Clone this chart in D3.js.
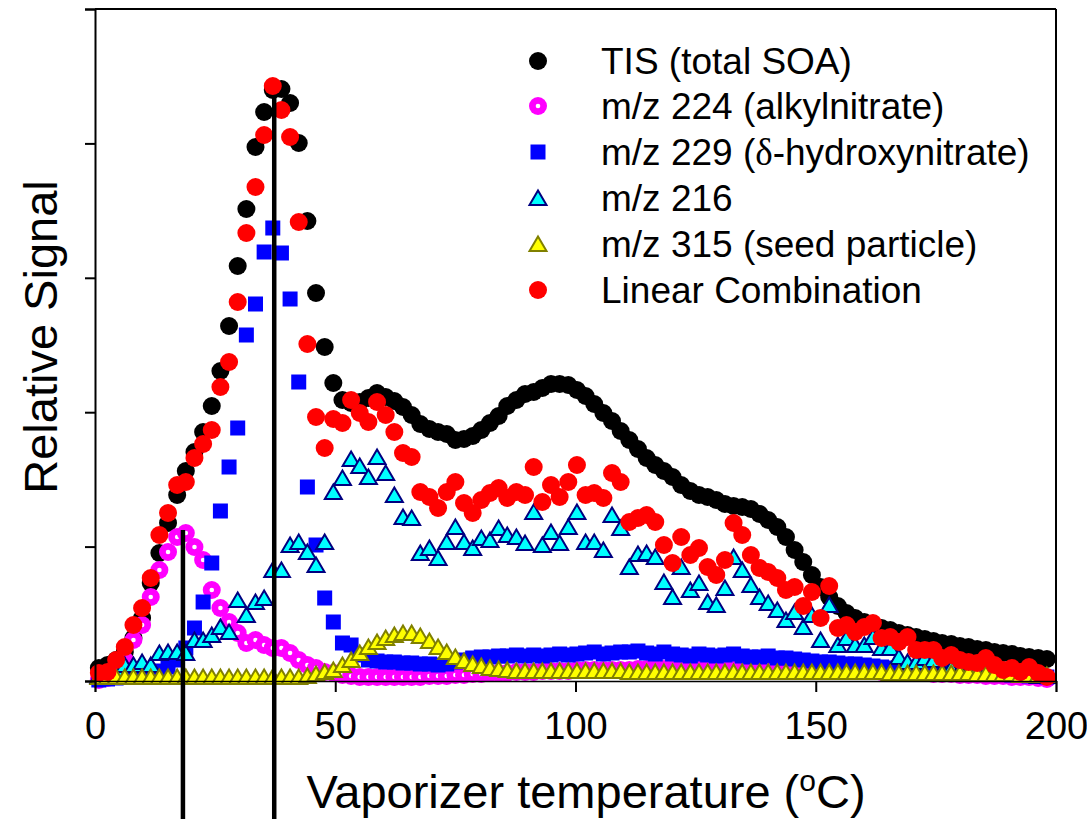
<!DOCTYPE html>
<html><head><meta charset="utf-8">
<script src="https://cdn.jsdelivr.net/npm/d3@7"></script>
<style>body{margin:0;background:#fff}</style>
</head><body><svg id="chart" width="1087" height="819"></svg>
<script>
// Vaporizer temperature (°C) of each scan
const temperature = [0.8,2.6,4.4,6.2,8.0,9.8,11.6,13.4,15.2,17.1,18.9,20.7,22.5,24.3,26.1,27.9,29.7,31.5,33.4,35.2,
37.0,38.8,40.6,42.4,44.2,46.0,47.8,49.6,51.5,53.3,55.1,56.9,58.7,60.5,62.3,64.1,65.9,67.7,69.6,71.4,
73.2,75.0,76.8,78.6,80.4,82.2,84.0,85.8,87.7,89.5,91.3,93.1,94.9,96.7,98.5,100.3,102.1,103.9,105.8,107.6,
109.4,111.2,113.0,114.8,116.6,118.4,120.2,122.0,123.9,125.7,127.5,129.3,131.1,132.9,134.7,136.5,138.3,140.1,142.0,143.8,
145.6,147.4,149.2,151.0,152.8,154.6,156.4,158.2,160.1,161.9,163.7,165.5,167.3,169.1,170.9,172.7,174.5,176.3,178.2,180.0,
181.8,183.6,185.4,187.2,189.0,190.8,192.6,194.4,196.3,198.1];

// Relative signal (arbitrary units)
const tis = [13,16,21,29,43,63,98,128,158,186,210,229,249,275,310,355,415,472,534,569,
591,592,578,538,460,388,334,298,281,278,279,283,288,284,280,274,266,257,252,249,
247,241,242,245,251,258,265,275,281,287,289,293,297,297,296,291,285,277,268,260,
250,241,232,223,216,210,204,196,190,186,184,181,177,175,174,172,167,161,154,144,
131,119,106,94,84,75,68,63,59,56,53,51,48,46,44,42,40,38,37,35,
34,32,31,29,28,27,25,24,23,22];

const mz224 = [1,3,9,21,41,56,84,111,129,144,148,134,121,91,73,59,48,38,41,36,
33,33,28,21,16,13,9,8,6,5,4,4,4,4,4,4,4,4,5,5,
5,6,6,7,7,8,8,8,9,9,9,10,10,10,10,11,11,11,11,11,
11,11,12,12,12,12,12,12,12,12,12,12,12,12,12,12,12,12,12,12,
12,11,11,11,11,11,10,10,10,10,9,9,9,8,8,8,7,7,7,6,
6,6,5,5,5,4,4,4,3,2];

const mz229 = [1,2,3,4,5,6,8,10,14,21,33,53,79,118,170,214,253,346,377,429,
453,428,382,299,194,136,83,59,38,36,26,21,20,19,19,18,18,17,17,16,
17,19,21,23,24,24,25,25,26,25,26,25,26,27,26,27,28,29,27,28,
29,29,30,28,27,29,27,26,25,27,26,25,26,27,25,24,24,25,23,23,
22,21,20,19,19,18,17,17,16,15,14,13,13,12,12,11,11,10,10,9,
9,8,8,7,7,6,6,5,5,4];

const mz216 = [5,9,11,16,16,19,16,28,29,29,28,41,41,46,54,49,81,66,79,83,
111,111,136,139,129,116,139,189,203,222,215,204,224,208,186,164,163,128,133,123,
139,154,139,133,143,141,153,146,144,138,169,136,149,138,154,169,139,139,131,166,
153,114,127,128,124,99,84,114,91,98,79,76,93,124,111,96,84,78,71,61,
69,54,66,41,76,36,43,36,36,44,33,33,24,19,19,23,21,11,13,11,
9,11,8,9,7,8,6,7,5,5];

const mz315 = [4,4,4,4,4,4,4,4,4,4,4,4,4,4,4,4,4,4,4,4,
4,4,4,4,5,7,9,11,16,21,28,34,39,43,46,48,48,45,40,34,
29,24,20,17,15,13,12,11,10,10,10,10,10,10,10,10,10,10,10,10,
10,9,9,9,9,9,9,9,9,9,9,9,9,9,9,9,9,9,9,9,
9,9,9,9,9,9,9,9,9,9,9,8,8,8,8,8,8,8,8,8,
8,7,7,7,7,7,6,6,6,6];

const linearComb = [8,9,21,34,56,73,103,146,168,196,199,223,237,251,294,319,379,448,494,546,
595,571,544,459,337,264,233,262,258,281,268,259,279,266,249,228,224,189,184,173,
189,199,178,168,181,188,193,183,189,186,214,179,196,184,199,216,186,188,183,208,
199,159,163,166,159,136,118,144,126,133,114,106,121,158,146,126,113,109,103,91,
94,75,89,63,95,53,56,49,54,58,43,44,39,44,31,31,31,23,26,21,
19,18,23,16,11,13,9,14,8,4];

const xTicks = [0, 50, 100, 150, 200];
const yTicks = [0, 134.4, 268.8, 403.2, 537.6, 672];
// vertical marker lines (temperature, top of line in signal units)
const markerTemps = [18.3, 37.3];
const markerTops = [151, 586];

const legendLabels = ["TIS (total SOA)", "m/z 224 (alkylnitrate)", "m/z 229 (\u03B4-hydroxynitrate)",
  "m/z 216", "m/z 315 (seed particle)", "Linear Combination"];

const seriesList = [
  {values: tis, sym: "circle", fill: "#000000"},
  {values: mz224, sym: "ring", fill: "#FF00FF"},
  {values: mz229, sym: "square", fill: "#0000FF"},
  {values: mz216, sym: "triangle", fill: "#00FFFF", stroke: "#000080"},
  {values: mz315, sym: "triangle", fill: "#FFFF00", stroke: "#808000"},
  {values: linearComb, sym: "circle", fill: "#FF0000"}
];

const svg = d3.select("#chart");
const W = 1087, H = 819;
const x = d3.scaleLinear().domain([0, 200]).range([95, 1056]);
const y = d3.scaleLinear().domain([0, 672]).range([681, 9]);
const font = "'Liberation Sans', Arial, Helvetica, sans-serif";

function drawSymbol(g, s) {
  if (s.sym === "circle") {
    g.append("circle").attr("r", 9).attr("fill", s.fill);
  } else if (s.sym === "ring") {
    g.append("circle").attr("r", 9).attr("fill", s.fill);
    g.append("circle").attr("r", 2.3).attr("fill", "#fff");
  } else if (s.sym === "square") {
    g.append("rect").attr("x", -7.5).attr("y", -7.5).attr("width", 15).attr("height", 15).attr("fill", s.fill);
  } else if (s.sym === "triangle") {
    g.append("path").attr("d", "M0,-7.5 L8.5,7 L-8.5,7 Z").attr("fill", s.fill)
      .attr("stroke", s.stroke).attr("stroke-width", 2).attr("stroke-linejoin", "miter");
  }
}

// data
seriesList.forEach(s => {
  const grp = svg.append("g");
  s.values.forEach((v, i) => {
    const g = grp.append("g").attr("transform", `translate(${x(temperature[i])},${y(v)})`);
    drawSymbol(g, s);
  });
});

// frame
svg.append("line").attr("x1", x(0)).attr("x2", x(200)).attr("y1", y(672)).attr("y2", y(672))
  .attr("stroke", "#000").attr("stroke-width", 2);
svg.append("line").attr("x1", x(200)).attr("x2", x(200)).attr("y1", y(672)).attr("y2", y(0))
  .attr("stroke", "#000").attr("stroke-width", 2);

const xAxis = svg.append("g").attr("transform", `translate(0,${y(0)})`)
  .call(d3.axisBottom(x).tickValues(xTicks).tickSize(11).tickPadding(20).tickFormat(d3.format("d")));
xAxis.select(".domain").attr("stroke-width", 1.5);
xAxis.selectAll(".tick line").attr("stroke-width", 2);
xAxis.selectAll("text").attr("font-family", font).attr("font-size", 38).attr("fill", "#000");

const yAxis = svg.append("g").attr("transform", `translate(${x(0)},0)`)
  .call(d3.axisLeft(y).tickValues(yTicks).tickSize(10).tickFormat(""));
yAxis.select(".domain").attr("stroke-width", 2);
yAxis.selectAll(".tick line").attr("stroke-width", 2);

// marker lines
markerTemps.forEach((t, i) => {
  svg.append("line").attr("x1", x(t)).attr("x2", x(t)).attr("y1", y(markerTops[i])).attr("y2", H)
    .attr("stroke", "#000").attr("stroke-width", 4.5);
});

// axis titles
const xt = svg.append("text").attr("x", 586).attr("y", 808).attr("text-anchor", "middle")
  .attr("font-family", font).attr("font-size", 47).attr("fill", "#000");
xt.append("tspan").text("Vaporizer temperature (");
xt.append("tspan").attr("font-size", 30).attr("dy", -17).text("o");
xt.append("tspan").attr("dy", 17).text("C)");

svg.append("text").attr("transform", "translate(57,337) rotate(-90)").attr("text-anchor", "middle")
  .attr("font-family", font).attr("font-size", 47).attr("fill", "#000").text("Relative Signal");

// legend
const legY = [61, 106, 152, 198, 244, 290];
seriesList.forEach((s, i) => {
  const g = svg.append("g").attr("transform", `translate(538,${legY[i]})`);
  drawSymbol(g, s);
  const t = svg.append("text").attr("x", 601).attr("y", legY[i] + 13)
    .attr("font-family", font).attr("font-size", 37).attr("fill", "#000");
  const lab = legendLabels[i];
  if (lab.indexOf("\u03B4") >= 0) {
    const parts = lab.split("\u03B4");
    t.append("tspan").text(parts[0]);
    t.append("tspan").attr("font-family", "'Liberation Serif', 'DejaVu Serif', serif").text("\u03B4");
    t.append("tspan").text(parts[1]);
  } else {
    t.text(lab);
  }
});
</script>
</body></html>
